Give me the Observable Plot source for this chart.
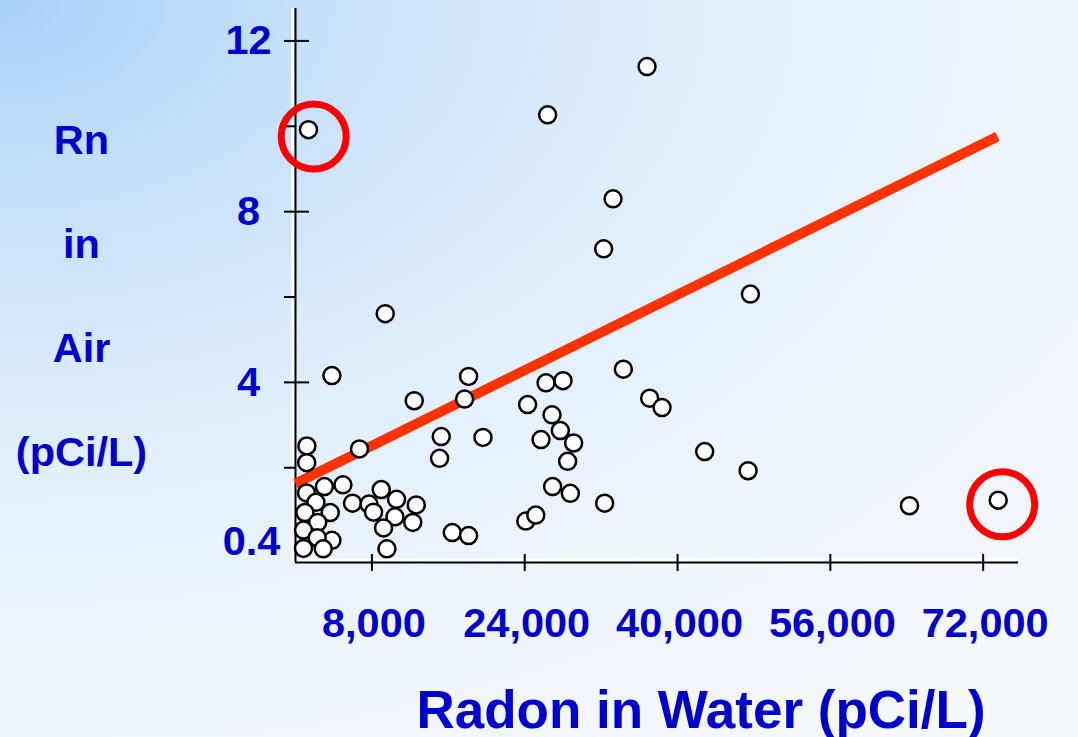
<!DOCTYPE html>
<html>
<head>
<meta charset="utf-8">
<script src="https://cdn.jsdelivr.net/npm/d3@7"></script>
<script src="https://cdn.jsdelivr.net/npm/@observablehq/plot@0.6"></script>
<style>
  html, body { margin: 0; padding: 0; overflow: hidden; }
  body {
    width: 1078px; height: 737px;
    background: radial-gradient(ellipse 130% 120% at 0% 0%, #a9d2f8 0%, #c9e2fa 25%, #e0eefc 50%, #eef5fd 75%, #f5f8fd 100%);
    font-family: Arial, "Liberation Sans", sans-serif;
  }
  #chart svg { display: block; }
</style>
</head>
<body>
<div id="chart"></div>
<script>
// Radon in water (pCi/L) vs radon in air (pCi/L)
const waterX = [
  1362, 36809, 26397, 33248, 32263, 9396, 47630, 3813, 12434, 18122,
  17703, 26229, 28010, 34327, 37082, 38380, 24302, 26858, 27727, 25706,
  29121, 28492, 15262, 15084, 19630, 6704, 1194, 1173, 42843, 47389,
  26921, 28775, 32368, 24113, 25161, 16414, 18122, 64285, 73576, 1152,
  3027, 4965, 2137, 985, 3635, 2325, 838, 3813, 2273, 838,
  2902, 5971, 7699, 8171, 8977, 10580, 12643, 10412, 9218, 12277,
  9574
];
const airY = [
  9.92, 11.40, 10.27, 8.30, 7.13, 5.61, 6.07, 4.16, 3.57, 4.14,
  3.61, 3.99, 4.04, 4.31, 3.63, 3.41, 3.48, 3.24, 2.87, 2.66,
  2.58, 2.15, 2.73, 2.22, 2.71, 2.44, 2.51, 2.12, 2.38, 1.93,
  1.56, 1.40, 1.17, 0.75, 0.89, 0.48, 0.41, 1.11, 1.24, 1.41,
  1.56, 1.60, 1.19, 0.95, 0.95, 0.72, 0.54, 0.30, 0.36, 0.11,
  0.10, 1.17, 1.15, 0.96, 1.49, 1.26, 1.13, 0.85, 0.59, 0.72,
  0.10
];
// regression line end points
const fitX = [0, 73500];
const fitY = [1.63, 9.76];
// highlighted outliers (circled in red)
const outlierX = [1906, 73995];
const outlierY = [9.76, 1.145];
// axis ticks
const xTicks = [8000, 24000, 40000, 56000, 72000];
const yMajorTicks = [4, 8, 12];
const yMinorTicks = [2, 6, 10];
const yBottomLabel = [0.4];
const xDomain = [0, 75700];
const yDomain = [-0.22, 12.76];

const points = waterX.map((x, i) => ({x, y: airY[i]}));
const fit = fitX.map((x, i) => ({x, y: fitY[i]}));
const outliers = outlierX.map((x, i) => ({x, y: outlierY[i]}));

const blue = "#0000cc";
const font = "Arial, 'Liberation Sans', sans-serif";
const empty = () => "";
const fs = 41.5;

const chart = Plot.plot({
  width: 1078,
  height: 737,
  marginLeft: 295,
  marginRight: 60,
  marginTop: 8,
  marginBottom: 175,
  style: {background: "transparent", fontFamily: font, overflow: "visible"},
  x: {domain: xDomain},
  y: {domain: yDomain},
  marks: [
    // axis lines with white highlight
    Plot.ruleX([xDomain[0]], {y1: yDomain[0], y2: yDomain[1], stroke: "white", strokeWidth: 2.5, dx: -3}),
    Plot.ruleY([yDomain[0]], {x1: xDomain[0], x2: xDomain[1], stroke: "white", strokeWidth: 2.5, dy: -3}),
    Plot.ruleX([xDomain[0]], {y1: yDomain[0], y2: yDomain[1], stroke: "black", strokeWidth: 2}),
    Plot.ruleY([yDomain[0]], {x1: xDomain[0], x2: xDomain[1], stroke: "black", strokeWidth: 2}),
    // ticks
    Plot.axisX({ticks: xTicks, tickSize: 17, dy: -8, tickFormat: empty, label: null, strokeWidth: 2, stroke: "black"}),
    Plot.axisY({ticks: yMinorTicks, tickSize: 11, tickFormat: empty, label: null, strokeWidth: 2, stroke: "black"}),
    Plot.axisY({ticks: yMajorTicks, tickSize: 25, dx: 14, tickFormat: empty, label: null, strokeWidth: 2, stroke: "black"}),
    // tick labels
    Plot.axisX({ticks: xTicks, tickSize: 0, tickPadding: 45, dx: 2, tickFormat: d3.format(","), label: null,
      fill: blue, fontSize: fs, fontWeight: "bold", fontFamily: font}),
    Plot.axisY({ticks: yMajorTicks, tickSize: 0, tickPadding: 47, textAnchor: "middle", tickFormat: d => String(d), label: null,
      fill: blue, fontSize: fs, fontWeight: "bold", fontFamily: font}),
    Plot.axisY({ticks: yBottomLabel, tickSize: 0, tickPadding: 44, dy: 6, textAnchor: "middle", tickFormat: d => String(d), label: null,
      fill: blue, fontSize: fs, fontWeight: "bold", fontFamily: font}),
    // axis titles
    Plot.text(["Rn\nin\nAir\n(pCi/L)"], {frameAnchor: "left", dx: -214, dy: -9, textAnchor: "middle", lineAnchor: "middle",
      lineHeight: 104 / fs, fill: blue, fontSize: fs, fontWeight: "bold", fontFamily: font}),
    Plot.text(["Radon in Water (pCi/L)"], {frameAnchor: "bottom", dx: 44, dy: 128, textAnchor: "middle", lineAnchor: "top",
      fill: blue, fontSize: 53, fontWeight: "bold", fontFamily: font}),
    // regression line
    Plot.line(fit, {x: "x", y: "y", stroke: "#ff3300", strokeWidth: 10, strokeLinecap: "butt"}),
    // data points
    Plot.dot(points, {x: "x", y: "y", r: 8.5, fill: "white", stroke: "black", strokeWidth: 2.5}),
    // red highlight circles
    Plot.dot(outliers, {x: "x", y: "y", r: 32.5, fill: "none", stroke: "#ff0000", strokeWidth: 7})
  ]
});
document.getElementById("chart").append(chart);
</script>
</body>
</html>
